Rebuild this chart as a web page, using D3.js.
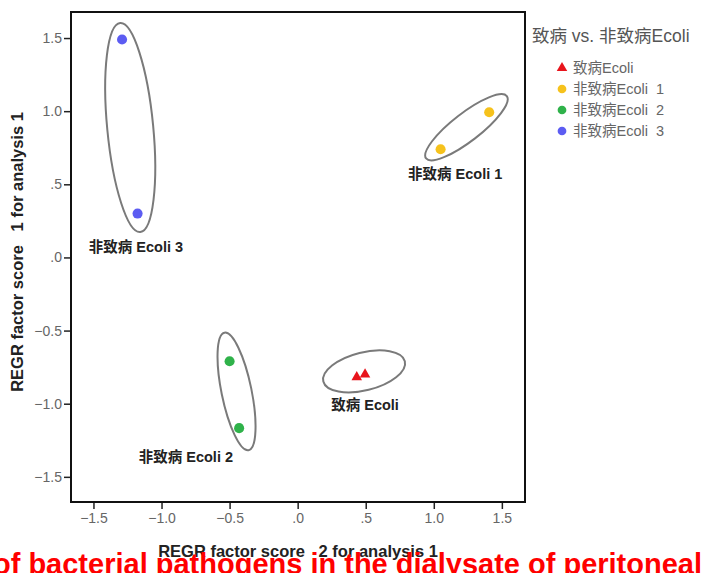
<!DOCTYPE html>
<html>
<head>
<meta charset="utf-8">
<script src="https://cdn.jsdelivr.net/npm/d3@7"></script>
<style>
  body { margin: 0; background: #fff; overflow: hidden; }
  text { font-family: "Liberation Sans", Arial, "Noto Sans CJK SC", sans-serif; }
</style>
</head>
<body>
<div id="chart-area"></div>
<script>
// groups as in the SPSS legend
var groups = ["致病Ecoli", "非致病Ecoli  1", "非致病Ecoli  2", "非致病Ecoli  3"];
var groupColors = ["#e8141c", "#f6c21c", "#2fb24a", "#5c5cf2"];
var clusterLabels = ["致病 Ecoli", "非致病 Ecoli 1", "非致病 Ecoli 2", "非致病 Ecoli 3"];

// factor scores, one entry per sample
var pointGroup = [0, 0, 1, 1, 2, 2, 3, 3];
var score2 = [0.434, 0.495, 1.05, 1.407, -0.50, -0.43, -1.176, -1.29];
var score1 = [-0.818, -0.80, 0.74, 0.993, -0.71, -1.167, 0.30, 1.49];

// hand drawn rings round each cluster (centre in score units)
var ringX = [0.488, 1.24, -0.449, -1.23];
var ringY = [-0.779, 0.89, -0.916, 0.888];
var ringLabelX = [0.495, 1.157, -0.821, -1.188];
var ringLabelY = [-1.046, 0.535, -1.401, 0.034];

var tickValues = [-1.5, -1.0, -0.5, 0, 0.5, 1.0, 1.5];

var margin = {left: 71, top: 12};
var width = 454, height = 490;

var svg = d3.select("#chart-area").append("svg")
    .attr("width", 705)
    .attr("height", 573);

var g = svg.append("g")
    .attr("transform", "translate(" + margin.left + "," + margin.top + ")");

var x = d3.scaleLinear().domain([-1.665, 1.67]).range([0, width]);
var y = d3.scaleLinear().domain([-1.672, 1.678]).range([height, 0]);

var fmt = function(d) { return d3.format(".1f")(d).replace(/^(-?)0\./, "$1."); };

// axes
var xAxis = g.append("g")
    .attr("transform", "translate(0," + height + ")")
    .call(d3.axisBottom(x).tickValues(tickValues).tickFormat(fmt).tickSize(7).tickPadding(4));
var yAxis = g.append("g")
    .call(d3.axisLeft(y).tickValues(tickValues).tickFormat(fmt).tickSize(7).tickPadding(2));

[xAxis, yAxis].forEach(function(a) {
  a.select(".domain").remove();
  a.selectAll("line").attr("stroke", "#222").attr("stroke-width", 1.5);
  a.selectAll("text").attr("fill", "#666").attr("font-size", "14px")
    .attr("font-family", "'Liberation Sans', Arial, sans-serif");
});

g.append("rect")
    .attr("width", width)
    .attr("height", height)
    .attr("fill", "none")
    .attr("stroke", "#111")
    .attr("stroke-width", 2);

// rings
var ringRx = [42, 51, 60, 105];
var ringRy = [19, 14, 15, 23];
var ringAngle = [-14, -37.7, 78.4, 84.5];
g.selectAll(".ring")
    .data(groups)
    .enter().append("ellipse")
    .attr("class", "ring")
    .attr("rx", function(d, i) { return ringRx[i]; })
    .attr("ry", function(d, i) { return ringRy[i]; })
    .attr("transform", function(d, i) {
      return "translate(" + x(ringX[i]) + "," + y(ringY[i]) + ") rotate(" + ringAngle[i] + ")";
    })
    .attr("fill", "none")
    .attr("stroke", "#7a7a7a")
    .attr("stroke-width", 2);

g.selectAll(".clabel")
    .data(clusterLabels)
    .enter().append("text")
    .attr("class", "clabel")
    .attr("x", function(d, i) { return x(ringLabelX[i]); })
    .attr("y", function(d, i) { return y(ringLabelY[i]); })
    .attr("text-anchor", "middle")
    .attr("font-size", "14.5px")
    .attr("font-weight", "bold")
    .attr("fill", "#222")
    .text(function(d) { return d; });

// points
var idx = d3.range(score2.length);
g.selectAll(".pt")
    .data(idx)
    .enter().append("path")
    .attr("class", "pt")
    .attr("transform", function(i) { return "translate(" + x(score2[i]) + "," + y(score1[i]) + ")"; })
    .attr("d", function(i) {
      return pointGroup[i] === 0
        ? d3.symbol().type(d3.symbolTriangle).size(48)()
        : d3.symbol().type(d3.symbolCircle).size(80)();
    })
    .attr("fill", function(i) { return groupColors[pointGroup[i]]; });

// axis titles
svg.append("text")
    .attr("x", 298)
    .attr("y", 557)
    .attr("text-anchor", "middle")
    .attr("font-size", "16.5px")
    .attr("font-weight", "bold")
    .attr("fill", "#222")
    .attr("xml:space", "preserve")
    .text("REGR factor score   2 for analysis 1");

svg.append("text")
    .attr("transform", "translate(23,252) rotate(-90)")
    .attr("text-anchor", "middle")
    .attr("font-size", "16.5px")
    .attr("font-weight", "bold")
    .attr("fill", "#222")
    .attr("xml:space", "preserve")
    .text("REGR factor score   1 for analysis 1");

// legend
var legend = svg.append("g").attr("transform", "translate(532,0)");
legend.append("text")
    .attr("x", 0)
    .attr("y", 42)
    .attr("font-size", "17.5px")
    .attr("fill", "#555")
    .text("致病 vs. 非致病Ecoli");

var rows = legend.selectAll(".lrow")
    .data(groups)
    .enter().append("g")
    .attr("class", "lrow")
    .attr("transform", function(d, i) { return "translate(30," + (68 + i * 21) + ")"; });
rows.append("path")
    .attr("d", function(d, i) {
      return i === 0
        ? d3.symbol().type(d3.symbolTriangle).size(48)()
        : d3.symbol().type(d3.symbolCircle).size(60)();
    })
    .attr("fill", function(d, i) { return groupColors[i]; });
rows.append("text")
    .attr("x", 11)
    .attr("y", 5)
    .attr("font-size", "14.5px")
    .attr("fill", "#666")
    .attr("xml:space", "preserve")
    .text(function(d) { return d; });

// caption bleeding in from below
svg.append("text")
    .attr("x", 702)
    .attr("y", 574)
    .attr("text-anchor", "end")
    .attr("font-size", "29px")
    .attr("font-weight", "bold")
    .attr("fill", "#f00")
    .text("of bacterial pathogens in the dialysate of peritoneal");
</script>
</body>
</html>
